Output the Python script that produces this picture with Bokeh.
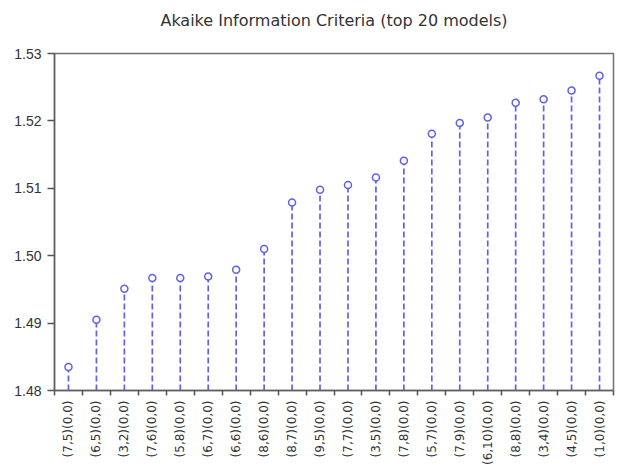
from bokeh.plotting import figure
from bokeh.models import Range1d, FixedTicker, NumeralTickFormatter, ColumnDataSource, Title
from bokeh.embed import file_html
from bokeh.resources import INLINE
import math

# Model specifications, ordered by AIC
models = ["(7,5)(0,0)", "(6,5)(0,0)", "(3,2)(0,0)", "(7,6)(0,0)", "(5,8)(0,0)",
          "(6,7)(0,0)", "(6,6)(0,0)", "(8,6)(0,0)", "(8,7)(0,0)", "(9,5)(0,0)",
          "(7,7)(0,0)", "(3,5)(0,0)", "(7,8)(0,0)", "(5,7)(0,0)", "(7,9)(0,0)",
          "(6,10)(0,0)", "(8,8)(0,0)", "(3,4)(0,0)", "(4,5)(0,0)", "(1,0)(0,0)"]
aic = [1.4835, 1.4905, 1.4951, 1.4967, 1.4967,
       1.4969, 1.4979, 1.5010, 1.5079, 1.5098,
       1.5105, 1.5116, 1.5141, 1.5181, 1.5197,
       1.5205, 1.5227, 1.5232, 1.5245, 1.5267]
y_ticks = [1.48, 1.49, 1.50, 1.51, 1.52, 1.53]
y_base = 1.48
title_text = "Akaike Information Criteria (top 20 models)"

STEM = "#6060ec"

n = len(models)
pos = [i + 0.5 for i in range(n)]
src = ColumnDataSource(dict(x=pos, y=aic, base=[y_base] * n, model=models))

p = figure(width=618, height=468, output_backend="svg", toolbar_location=None,
           x_range=Range1d(0, n), y_range=Range1d(y_ticks[0], y_ticks[-1]),
           min_border_left=54, min_border_right=5, min_border_top=53,
           min_border_bottom=76)

p.grid.visible = False
p.outline_line_color = "#707070"
p.outline_line_width = 1.5
p.background_fill_color = "white"
p.border_fill_color = "white"

# blank gap between the plot area and the title, then the title itself
p.add_layout(Title(text=" ", text_font_size="16px", standoff=0), "above")
p.add_layout(Title(text=title_text, align="center", standoff=10,
                   text_font="DejaVu Sans", text_font_size="16px",
                   text_font_style="normal", text_color="#333333"), "above")

# x axis: labels at model centres, tick marks between models
xa = p.xaxis[0]
xa.ticker = FixedTicker(ticks=pos, minor_ticks=list(range(n + 1)))
xa.major_label_overrides = {x: m for x, m in zip(pos, models)}
xa.major_label_orientation = math.pi / 2
xa.major_label_text_font = "DejaVu Sans"
xa.major_label_text_font_size = "12px"
xa.major_label_text_color = "#333333"
xa.major_label_standoff = 5
xa.major_tick_line_color = None
xa.major_tick_out = 0
xa.major_tick_in = 0
xa.minor_tick_out = 5
xa.minor_tick_in = 0
xa.minor_tick_line_color = "#555555"
xa.minor_tick_line_width = 1.5
xa.axis_line_color = "#606060"
xa.axis_line_width = 1.5

ya = p.yaxis[0]
ya.ticker = FixedTicker(ticks=y_ticks)
ya.formatter = NumeralTickFormatter(format="0.00")
ya.major_label_text_font = "Liberation Sans"
ya.major_label_text_font_size = "14px"
ya.major_label_text_color = "#333333"
ya.major_label_standoff = 6
ya.major_tick_out = 7
ya.major_tick_in = 0
ya.major_tick_line_color = "#555555"
ya.major_tick_line_width = 1.5
ya.minor_tick_line_color = None
ya.axis_line_color = "#606060"
ya.axis_line_width = 1.5

# dashed stems with open circle markers
p.segment(x0="x", y0="base", x1="x", y1="y", source=src,
          line_color=STEM, line_width=1.7, line_dash="6 3")
p.scatter(x="x", y="y", source=src, marker="circle", size=7,
          line_color=STEM, line_width=1.5, fill_color="white")

open("out.html", "w").write(file_html(p, INLINE))
